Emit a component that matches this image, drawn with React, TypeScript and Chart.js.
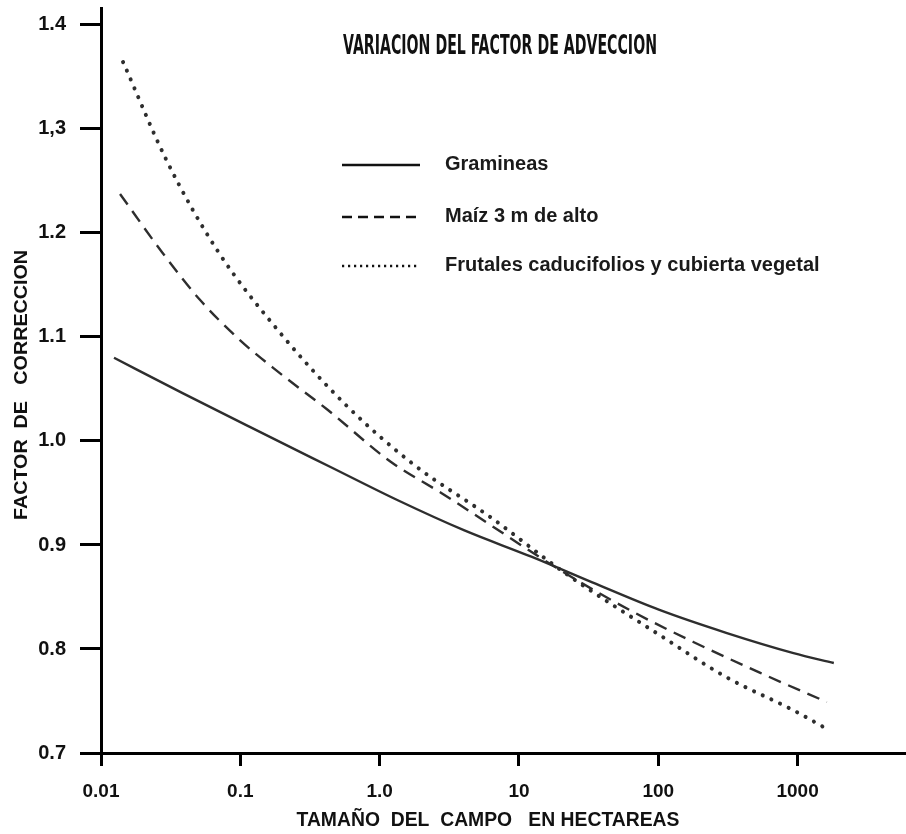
import React, { useEffect, useRef } from "react";
import { Chart, registerables } from "chart.js";

Chart.register(...registerables);

// ---- Data ----
const TITLE = "VARIACION DEL FACTOR DE ADVECCION";
const X_TITLE = "TAMAÑO  DEL  CAMPO   EN HECTAREAS";
const Y_TITLE = "FACTOR  DE   CORRECCION";

const SERIES_NAMES = ["Gramineas", "Maíz 3 m de alto", "Frutales caducifolios y cubierta vegetal"];

const gramX = [0.0124, 0.0385, 0.117, 0.444, 1.35, 4.06, 12.4, 33.6, 102, 307, 935, 1820];
const gramY = [1.08, 1.046, 1.0135, 0.975, 0.943, 0.914, 0.8885, 0.864, 0.8375, 0.8155, 0.796, 0.7865];

const maizX = [0.0137, 0.0276, 0.0511, 0.0993, 0.193, 0.423, 1.2, 2.77, 21.4, 65.3, 177, 540, 1620];
const maizY = [1.2375, 1.181, 1.136, 1.097, 1.065, 1.03, 0.98, 0.95, 0.873, 0.836, 0.807, 0.777, 0.749];

const frutX = [0.0144, 0.0295, 0.0678, 0.193, 0.589, 1.77, 6.36, 21.4, 102, 307, 935, 1680];
const frutY = [1.3644, 1.27, 1.184, 1.104, 1.033, 0.977, 0.926, 0.873, 0.8135, 0.773, 0.741, 0.722];

const X_TICKS = [0.01, 0.1, 1, 10, 100, 1000];
const X_TICK_LABELS = ["0.01", "0.1", "1.0", "10", "100", "1000"];
const Y_TICKS = [0.7, 0.8, 0.9, 1.0, 1.1, 1.2, 1.3, 1.4];
const Y_TICK_LABELS = ["0.7", "0.8", "0.9", "1.0", "1.1", "1.2", "1,3", "1.4"];

const X_MIN = 0.01;
const X_MAX = 6000;
const Y_MIN = 0.7;
const Y_MAX = 1.4163;

const LINE_COLOR = "#2e2e2e";
const TEXT_COLOR = "#111111";

const STYLES = [
  { dash: [] as number[], width: 2.4, cap: "butt" },
  { dash: [13, 8], width: 2.4, cap: "butt" },
  { dash: [0.1, 9.5], width: 4, cap: "round" },
];

function fitText(ctx: CanvasRenderingContext2D, text: string, font: string, cx: number, cy: number, width: number, rotate = 0) {
  ctx.save();
  ctx.font = font;
  const w = ctx.measureText(text).width;
  ctx.translate(cx, cy);
  if (rotate) ctx.rotate(rotate);
  ctx.scale(width / w, 1);
  ctx.textAlign = "center";
  ctx.textBaseline = "middle";
  ctx.fillStyle = TEXT_COLOR;
  ctx.fillText(text, 0, 0);
  ctx.restore();
}

const textPlugin = {
  id: "customText",
  afterDraw(chart: any) {
    const ctx: CanvasRenderingContext2D = chart.ctx;
    fitText(ctx, TITLE, "bold 26px 'DejaVu Sans Condensed', 'DejaVu Sans'", 500, 47, 314);
    fitText(ctx, X_TITLE, "bold 21px 'Liberation Sans', Arial", 488, 820, 383);
    fitText(ctx, Y_TITLE, "bold 19px 'Liberation Sans', Arial", 22, 385, 270, -Math.PI / 2);
    const ys = [165, 217, 266];
    const legDash = [[], [10, 6], [2.2, 3.8]];
    for (let i = 0; i < SERIES_NAMES.length; i++) {
      ctx.save();
      ctx.strokeStyle = "#111";
      ctx.lineWidth = 2.5;
      ctx.setLineDash(legDash[i]);
      ctx.beginPath();
      ctx.moveTo(342, ys[i]);
      ctx.lineTo(420, ys[i]);
      ctx.stroke();
      ctx.restore();
      ctx.save();
      ctx.font = "bold 20px 'Liberation Sans', Arial";
      ctx.fillStyle = "#1a1a1a";
      ctx.textAlign = "left";
      ctx.textBaseline = "middle";
      ctx.fillText(SERIES_NAMES[i], 445, ys[i] - 1);
      ctx.restore();
    }
  },
};

export default function App() {
  const ref = useRef<HTMLCanvasElement | null>(null);
  useEffect(() => {
    if (!ref.current) return;
    const mk = (xs: number[], ys: number[]) => xs.map((x, i) => ({ x, y: ys[i] }));
    const datasets = [mk(gramX, gramY), mk(maizX, maizY), mk(frutX, frutY)].map((data, i) => ({
      label: SERIES_NAMES[i],
      data,
      borderColor: LINE_COLOR,
      borderWidth: STYLES[i].width,
      borderDash: STYLES[i].dash,
      borderCapStyle: STYLES[i].cap as any,
      pointRadius: 0,
      cubicInterpolationMode: "monotone" as const,
      fill: false,
    }));
    const chart = new Chart(ref.current, {
      type: "line",
      data: { datasets },
      plugins: [textPlugin],
      options: {
        animation: false,
        responsive: false,
        layout: { padding: { top: 8, left: 0, right: 0, bottom: 0 } },
        plugins: { legend: { display: false }, title: { display: false }, tooltip: { enabled: false } },
        scales: {
          x: {
            type: "logarithmic",
            min: X_MIN,
            max: X_MAX,
            afterBuildTicks: (s: any) => {
              s.ticks = X_TICKS.map((v) => ({ value: v }));
            },
            afterFit: (s: any) => {
              s.height = 81;
              s.paddingLeft = 0;
              s.paddingRight = 0;
            },
            ticks: {
              autoSkip: false,
              maxRotation: 0,
              padding: 14,
              color: TEXT_COLOR,
              font: { family: "'Liberation Sans', Arial", size: 19, weight: "bold" },
              callback: (_v: any, i: number) => X_TICK_LABELS[i],
            },
            grid: { drawOnChartArea: false, drawTicks: true, tickLength: 13, tickWidth: 3, tickColor: "#000" },
            border: { display: true, width: 3, color: "#000" },
          },
          y: {
            type: "linear",
            min: Y_MIN,
            max: Y_MAX,
            afterBuildTicks: (s: any) => {
              s.ticks = Y_TICKS.map((v) => ({ value: v }));
            },
            afterFit: (s: any) => {
              s.width = 101;
              s.paddingTop = 0;
              s.paddingBottom = 0;
            },
            ticks: {
              autoSkip: false,
              padding: 14,
              color: TEXT_COLOR,
              font: { family: "'Liberation Sans', Arial", size: 20, weight: "bold" },
              callback: (_v: any, i: number) => Y_TICK_LABELS[i],
            },
            grid: { drawOnChartArea: false, drawTicks: true, tickLength: 21, tickWidth: 3, tickColor: "#000" },
            border: { display: true, width: 3, color: "#000" },
          },
        },
      },
    });
    return () => chart.destroy();
  }, []);
  return (
    <div style={{ position: "absolute", left: 0, top: 0, width: 906, height: 834, background: "#fff" }}>
      <canvas ref={ref} width={906} height={834} style={{ display: "block" }} />
    </div>
  );
}
